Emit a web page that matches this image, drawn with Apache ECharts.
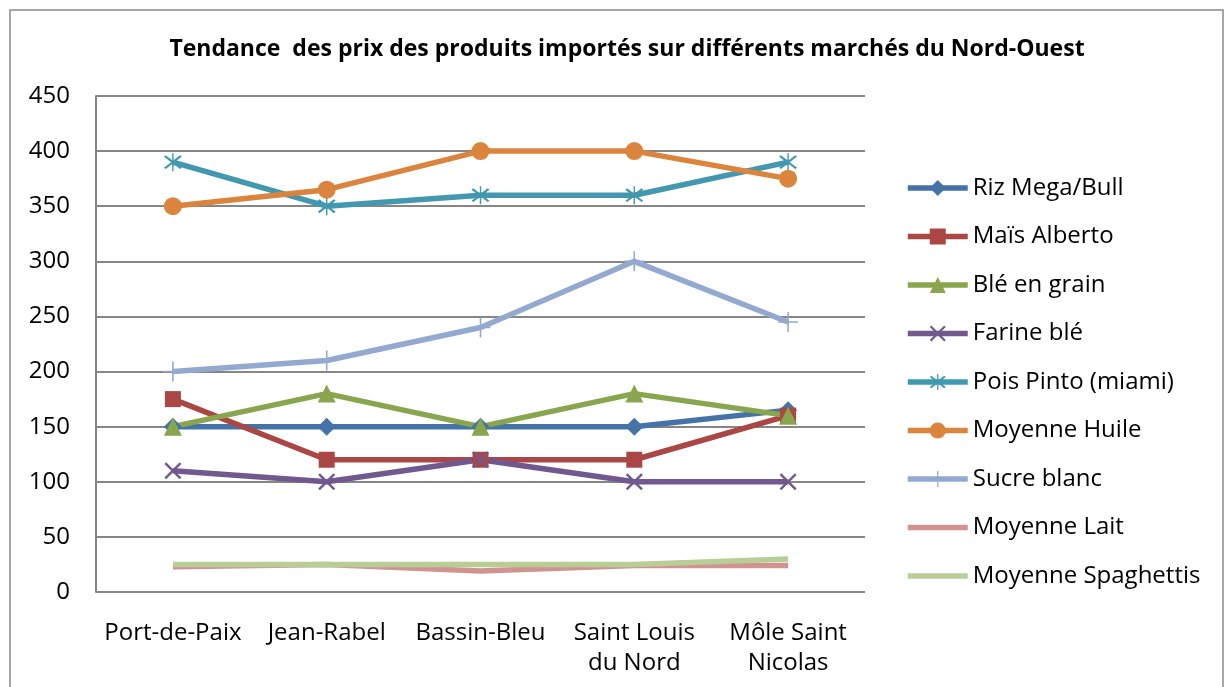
<!DOCTYPE html>
<html><head><meta charset="utf-8">
<script src="https://cdn.jsdelivr.net/npm/echarts@6/dist/echarts.min.js"></script>
<style>html,body{margin:0;padding:0;background:#fff}#c{width:1227px;height:687px}</style>
</head><body><div id="c"></div>
<script>
const categories = ['Port-de-Paix', 'Jean-Rabel', 'Bassin-Bleu', 'Saint Louis\ndu Nord', 'Môle Saint\nNicolas'];
const seriesNames = ['Riz Mega/Bull', 'Maïs Alberto', 'Blé en grain', 'Farine blé', 'Pois Pinto (miami)', 'Moyenne Huile', 'Sucre blanc', 'Moyenne Lait', 'Moyenne Spaghettis'];
const riz = [150, 150, 150, 150, 165];
const mais = [175, 120, 120, 120, 160];
const ble = [150, 180, 150, 180, 160];
const farine = [110, 100, 120, 100, 100];
const pois = [390, 350, 360, 360, 390];
const huile = [350, 365, 400, 400, 375];
const sucre = [200, 210, 240, 300, 245];
const lait = [23, 25, 19, 24, 24];
const spaghettis = [25, 25, 25, 25, 30];
const yTicks = {min: 0, max: 450, interval: 50};

const values = [riz, mais, ble, farine, pois, huile, sucre, lait, spaghettis];
const colors = ['#4572A7', '#AA4643', '#89A54E', '#71588F', '#4198AF', '#DB843D', '#93A9CF', '#D19392', '#B9CD96'];
const X = 'path://M0,1L1,0L5,4L9,0L10,1L6,5L10,9L9,10L5,6L1,10L0,9L4,5Z';
const STAR = 'path://M0,1L1,0L5,4L9,0L10,1L6,5L10,9L9,10L5,6L1,10L0,9L4,5Z M4.6,-1.5L5.4,-1.5L5.4,11.5L4.6,11.5Z';
const PLUS = 'path://M4.6,0H5.4V4.6H10V5.4H5.4V10H4.6V5.4H0V4.6H4.6Z';
const symbols = ['diamond', 'rect', 'triangle', X, STAR, 'circle', PLUS, 'none', 'none'];
const sizes = [18, 16, 18, 17, 18, 18, 20, 0, 0];
const BAND = 'path://M0,0L0,0Z M60,20L60,20Z M0,7.25H60V12.75H0Z';

const FONT = 'Open Sans';
const chart = echarts.init(document.getElementById('c'));
chart.setOption({
  backgroundColor: '#fff',
  animation: false,
  graphic: [{type: 'rect', shape: {x: 10, y: 10, width: 1213, height: 700}, style: {fill: 'none', stroke: '#8a8a8a', lineWidth: 1.5}}],
  title: {text: 'Tendance  des prix des produits importés sur différents marchés du Nord-Ouest', left: 622, top: 33, textAlign: 'center',
    textStyle: {fontFamily: FONT, fontWeight: 'bold', fontSize: 23, color: '#000'}},
  grid: {left: 96, top: 96, right: 362, bottom: 95, containLabel: false},
  legend: {orient: 'vertical', left: 900, top: 171, itemWidth: 60, itemHeight: 20, itemGap: 24.5,
    lineStyle: {width: 5.5},
    textStyle: {fontFamily: FONT, fontSize: 24, color: '#000', lineHeight: 24},
    data: seriesNames.map((n, i) => i >= 7 ? {name: n, icon: BAND} : n)},
  xAxis: {type: 'category', data: categories, boundaryGap: true,
    axisLine: {show: false}, axisTick: {show: false},
    axisLabel: {fontFamily: FONT, fontSize: 24, color: '#000', margin: 26, lineHeight: 30, interval: 0}},
  yAxis: {type: 'value', min: yTicks.min, max: yTicks.max, interval: yTicks.interval,
    axisLine: {show: true, lineStyle: {color: '#868686', width: 2}}, axisTick: {show: false},
    splitLine: {lineStyle: {color: '#868686', width: 2}},
    axisLabel: {fontFamily: FONT, fontSize: 24, color: '#000', margin: 26}},
  series: seriesNames.map((n, i) => ({
    name: n, type: 'line', data: values[i], symbol: symbols[i], symbolSize: sizes[i], showSymbol: i < 7,
    color: colors[i], lineStyle: {width: 5.5, color: colors[i]}, itemStyle: {color: colors[i]}
  }))
});
</script></body></html>
